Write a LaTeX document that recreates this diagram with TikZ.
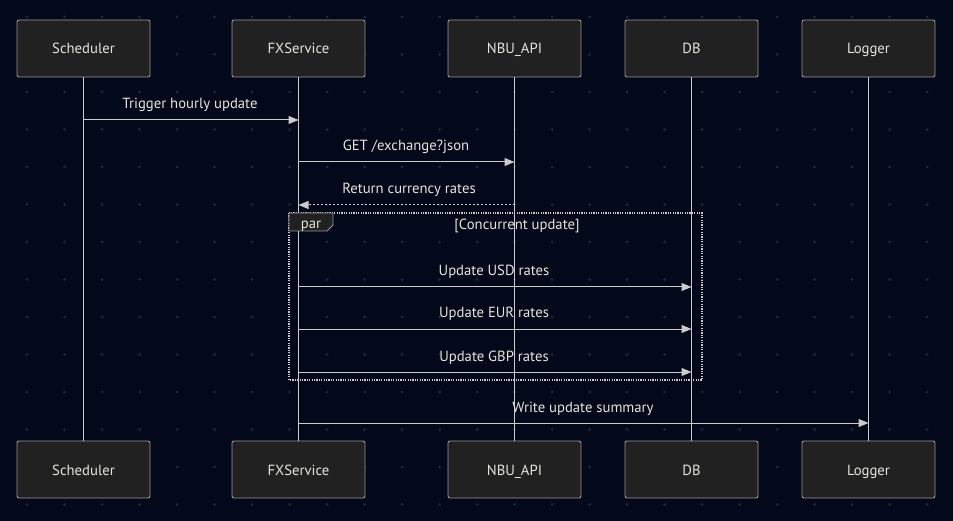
\documentclass[tikz,border=0pt]{standalone}
\usepackage{fontspec}
\setmainfont{PT Sans}
\usetikzlibrary{arrows.meta}
\definecolor{bg}{HTML}{03081A}
\definecolor{dotc}{HTML}{22283A}
\definecolor{boxfill}{HTML}{212121}
\definecolor{boxline}{HTML}{9A9A9A}
\definecolor{linec}{HTML}{CCCCCC}
\definecolor{txt}{HTML}{E6E4DC}
\begin{document}
\begin{tikzpicture}[x=1pt,y=-1pt,
  actor/.style={draw=boxline,fill=boxfill,rounded corners=2pt,line width=0.9pt,minimum width=133pt,minimum height=57pt,text=txt,font=\fontsize{14.7}{16}\selectfont,inner sep=0pt,text height=13pt,text depth=2pt},
  life/.style={draw=linec,line width=1pt},
  msg/.style={draw=linec,line width=1pt,-{Triangle[length=10pt,width=8pt,fill=linec]}},
  reply/.style={msg,dash pattern=on 2pt off 2pt},
  lbl/.style={text=txt,font=\fontsize{14.7}{16}\selectfont,inner sep=0pt,anchor=base}
]
\fill[bg] (0,0) rectangle (953,521);
\useasboundingbox (0,0) rectangle (953,521);
\foreach \i in {0,...,25}{\foreach \j in {0,...,13}{
  \fill[dotc] ({27+37.5*\i},{17+37.5*\j}) circle (1.5pt);}}
% actors
\node[actor] (sT) at (83.5,48.5) {Scheduler};
\node[actor] (fT) at (298.5,48.5) {FXService};
\node[actor] (nT) at (514.5,48.5) {NBU\_API};
\node[actor] (dT) at (691.5,48.5) {DB};
\node[actor] (lT) at (868.5,48.5) {Logger};
\node[actor] (sB) at (83.5,469.5) {Scheduler};
\node[actor] (fB) at (298.5,469.5) {FXService};
\node[actor] (nB) at (514.5,469.5) {NBU\_API};
\node[actor] (dB) at (691.5,469.5) {DB};
\node[actor] (lB) at (868.5,469.5) {Logger};
% lifelines
\draw[life] (sT.south) -- (sB.north);
\draw[life] (fT.south) -- (fB.north);
\draw[life] (nT.south) -- (nB.north);
\draw[life] (dT.south) -- (dB.north);
\draw[life] (lT.south) -- (lB.north);
% coordinates for messages
\coordinate (m1a) at (sT.south |- 0,120); \coordinate (m1b) at (fT.south |- 0,120);
\coordinate (m2a) at (fT.south |- 0,162); \coordinate (m2b) at (nT.south |- 0,162);
\coordinate (m3a) at (nT.south |- 0,205); \coordinate (m3b) at (fT.south |- 0,205);
\coordinate (m4a) at (fT.south |- 0,287); \coordinate (m4b) at (dT.south |- 0,287);
\coordinate (m5a) at (fT.south |- 0,329); \coordinate (m5b) at (dT.south |- 0,329);
\coordinate (m6a) at (fT.south |- 0,372); \coordinate (m6b) at (dT.south |- 0,372);
\coordinate (m7a) at (fT.south |- 0,423); \coordinate (m7b) at (lT.south |- 0,423);
\draw[msg] (m1a) -- (m1b);
\node[lbl] (t1) at (190,109) {Trigger hourly update};
\draw[msg] (m2a) -- (m2b);
\node[lbl] (t2) at (406,151) {GET /exchange?json};
\draw[reply] (m3a) -- (m3b);
\node[lbl] (t3) at (409,194) {Return currency rates};
% par frame
\draw[linec,line width=1.2pt,dash pattern=on 1.2pt off 1.2pt] (289,213) rectangle (702,380);
\draw[boxline,fill=boxfill,line width=0.8pt] (289,213) -- (333,213) -- (333,225) -- (327,231) -- (289,231) -- cycle;
\node[lbl] (par) at (311,229) {par};
\node[lbl] (cond) at (517,230) {[Concurrent update]};
\draw[msg] (m4a) -- (m4b);
\node[lbl] (t4) at (494,276) {Update USD rates};
\draw[msg] (m5a) -- (m5b);
\node[lbl] (t5) at (494,318) {Update EUR rates};
\draw[msg] (m6a) -- (m6b);
\node[lbl] (t6) at (494,361) {Update GBP rates};
\draw[msg] (m7a) -- (m7b);
\node[lbl] (t7) at (583,412) {Write update summary};
\end{tikzpicture}
\end{document}
